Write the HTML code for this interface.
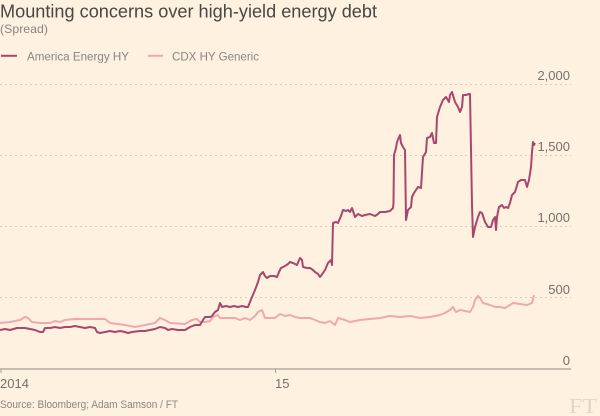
<!DOCTYPE html>
<html><head><meta charset="utf-8"><style>
html,body{margin:0;padding:0;background:#fff1e0;}
svg{display:block;}
text{font-family:"Liberation Sans",sans-serif;}
</style></head><body>
<svg width="600" height="416" viewBox="0 0 600 416" xmlns="http://www.w3.org/2000/svg">
<rect width="600" height="416" fill="#fff1e0"/>
<text x="0" y="17.5" font-size="18" fill="#4a4642" textLength="377" lengthAdjust="spacingAndGlyphs">Mounting concerns over high-yield energy debt</text>
<text x="0" y="33" font-size="12" fill="#8a857f" textLength="48" lengthAdjust="spacingAndGlyphs">(Spread)</text>
<line x1="1" y1="55.8" x2="17" y2="55.8" stroke="#a8476b" stroke-width="2"/>
<text x="27" y="60.5" font-size="12" fill="#8a857f" textLength="102" lengthAdjust="spacingAndGlyphs">America Energy HY</text>
<line x1="148" y1="55.8" x2="163" y2="55.8" stroke="#eda9ad" stroke-width="2"/>
<text x="172" y="60.5" font-size="12" fill="#8a857f" textLength="87" lengthAdjust="spacingAndGlyphs">CDX HY Generic</text>
<g stroke="#d8cbbb" stroke-width="1" stroke-dasharray="2,3">
<line x1="0" y1="84.5" x2="571" y2="84.5"/>
<line x1="0" y1="155.5" x2="571" y2="155.5"/>
<line x1="0" y1="226.5" x2="571" y2="226.5"/>
<line x1="0" y1="297.5" x2="571" y2="297.5"/>
</g>
<line x1="0" y1="369" x2="571" y2="369" stroke="#a59d93" stroke-width="1.2"/>
<line x1="1" y1="369" x2="1" y2="373" stroke="#a59d93" stroke-width="1"/>
<line x1="275.5" y1="369" x2="275.5" y2="373" stroke="#a59d93" stroke-width="1"/>
<g font-size="13" fill="#75716b" text-anchor="end">
<text x="570" y="80">2,000</text>
<text x="570" y="151">1,500</text>
<text x="570" y="222">1,000</text>
<text x="570" y="294">500</text>
<text x="570" y="365">0</text>
</g>
<text x="0" y="388" font-size="13" fill="#75716b">2014</text>
<text x="275" y="388" font-size="13" fill="#75716b">15</text>
<text x="0" y="408" font-size="11" fill="#8a857f" textLength="178" lengthAdjust="spacingAndGlyphs">Source: Bloomberg; Adam Samson / FT</text>
<text x="569" y="413" font-size="21" fill="#e3d6c6" font-family="Liberation Serif, serif" textLength="28" lengthAdjust="spacingAndGlyphs" style="font-family:'Liberation Serif',serif">FT</text>
<polyline fill="none" stroke="#eda9ad" stroke-width="2" stroke-linejoin="round" points="0,323 10,322 20,320 25,317 28,318 32,322 40,323 50,323 55,321 60,322 65,320 75,319 85,319 100,319 105,319 110,323 118,324 125,325 135,327 145,325 155,323 160,318 165,320 170,323 185,324 192,320 197,319 200,322 205,322 210,321 213,317 218,315 220,318 228,318 235,318 240,320 245,318 250,320 255,316 258,312 262,310 265,318 270,318 275,318 280,314 285,316 290,315 295,317 300,318 310,318 315,320 320,322 325,323 330,321 335,325 338,318 345,320 350,322 360,320 370,319 380,318 390,316 400,317 410,316 420,318 430,317 440,315 445,313 450,310 453,307 456,312 460,310 465,311 470,312 473,307 475,300 478,296 480,298 483,303 490,305 495,307 500,307 505,308 510,305 513,303 520,304 527,305 532,303 534,295"/>
<polyline fill="none" stroke="#a8476b" stroke-width="2" stroke-linejoin="round" points="0,330 5,329 10,330 17,328 25,328 30,329 35,330 40,332 43,332 45,328 50,328 55,327 60,328 65,327 70,327 75,326 80,327 85,328 90,327 95,328 97,332 100,333 105,332 110,331 115,332 120,331 125,332 128,333 132,332 140,331 145,331 150,330 155,329 160,327 165,328 168,330 172,329 178,330 185,330 190,327 195,325 200,325 203,320 205,317 210,317 212,316 215,312 218,310 220,303 222,307 226,306 230,307 234,306 238,307 242,306 246,307 248,307 252,297 255,290 258,282 260,275 263,272 265,276 267,278 270,276 274,276 277,277 279,272 281,268 285,266 288,264 290,262 293,263 297,265 300,258 302,260 303,267 307,268 310,268 313,270 315,272 318,274 320,277 323,273 325,270 328,263 331,260 332,265 333,223 336,222 338,223 341,216 343,210 346,211 348,210 350,212 352,208 355,217 358,214 362,216 365,215 370,214 375,216 378,214 380,212 385,212 390,211 393,208 393.5,203 394,155 396,148 397,142 400,135 401,143 403,147 405,150 406,220 408,210 411,207 412,197 414,193 418,187 421,188 423,157 426,152 427,138 430,137 432,133 434,143 436,143 437,117 440,107 443,100 446,97 449,102 450,95 452,92 455,102 458,107 460,112 462,107 463,95 466,95 469,94 470,94 472,205 473,237 475,227 478,217 480,212 482,213 485,222 488,227 491,227 493,220 495,217 496,230 497,217 499,207 502,205 504,208 506,207 508,208 510,203 512,195 515,192 518,182 521,180 525,180 527,187 529,180 531,167 532,152 533,142 534,145 535,143"/>
</svg>
</body></html>
